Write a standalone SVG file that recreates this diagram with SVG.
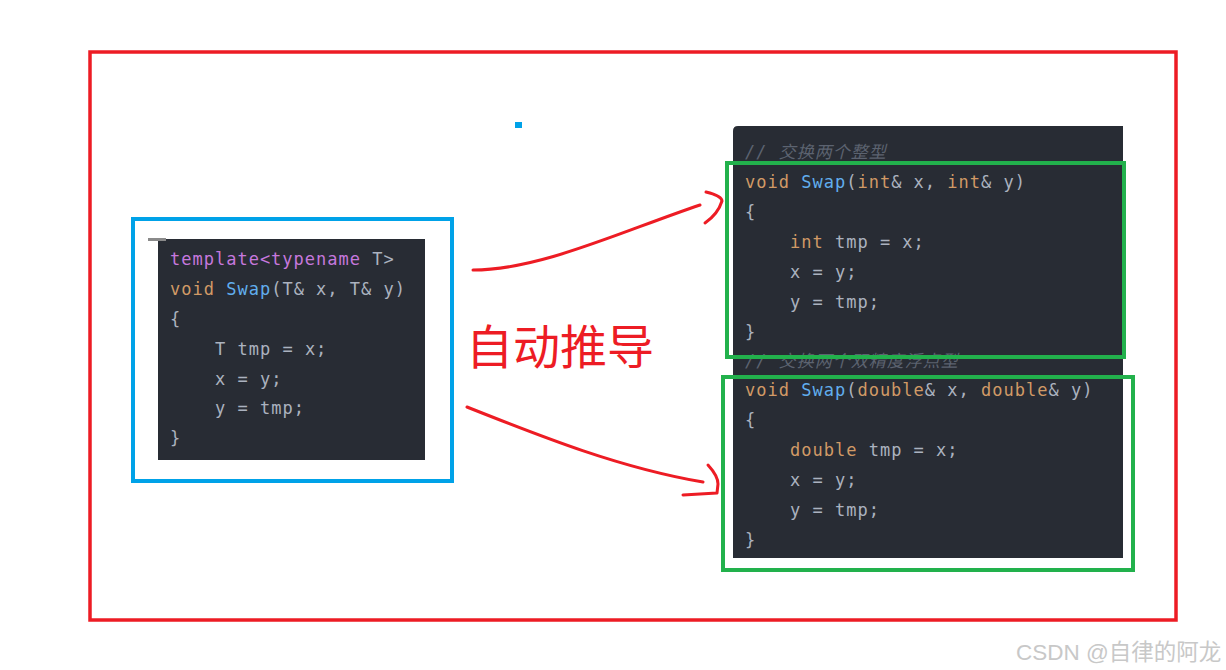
<svg xmlns="http://www.w3.org/2000/svg" width="1226" height="670" viewBox="0 0 1226 670">
<style>
.code{font-family:"DejaVu Sans Mono","Liberation Mono",monospace;font-size:17px;letter-spacing:1px;fill:#abb2bf}
.cm{fill:#5c6370;font-style:italic;font-family:"DejaVu Sans Mono","Noto Sans CJK SC",monospace}
.kw{fill:#c678dd}
.ty{fill:#d19a66}
.fn{fill:#61aeee}
.frame{fill:none}
.arrow{fill:none;stroke:#ed1c24;stroke-width:3;stroke-linecap:round;stroke-linejoin:round}
</style>
<rect width="1226" height="670" fill="#ffffff"/>
<g id="outer-frame"><rect x="90" y="52" width="1086" height="568" class="frame" stroke="#ed1c24" stroke-width="3.5"/></g>
<rect x="515" y="122" width="7" height="6" fill="#00a2e8"/>
<g id="template-node">
<rect x="158" y="239" width="267" height="221" fill="#282c34"/>
<rect x="148" y="238" width="18" height="3" fill="#8a8a8a"/>
<text class="code" x="170" y="265"><tspan class="kw">template&lt;typename</tspan> T&gt;</text>
<text class="code" x="170" y="295"><tspan class="ty">void</tspan> <tspan class="fn">Swap</tspan>(T&amp; x, T&amp; y)</text>
<text class="code" x="170" y="325">{</text>
<text class="code" x="215" y="355">T tmp = x;</text>
<text class="code" x="215" y="385">x = y;</text>
<text class="code" x="215" y="414">y = tmp;</text>
<text class="code" x="170" y="444">}</text>
<rect x="133" y="219" width="319" height="262" class="frame" stroke="#00a2e8" stroke-width="4"/>
</g>
<g id="instances">
<path d="M733 131 Q733 126 738 126 L1123 126 L1123 558 L733 558 Z" fill="#282c34"/>
<text class="code cm" x="745" y="158">// 交换两个整型</text>
<text class="code cm" x="745" y="367">// 交换两个双精度浮点型</text>
</g>
<g id="int-node">
<text class="code" x="745" y="188"><tspan class="ty">void</tspan> <tspan class="fn">Swap</tspan>(<tspan class="ty">int</tspan>&amp; x, <tspan class="ty">int</tspan>&amp; y)</text>
<text class="code" x="745" y="218">{</text>
<text class="code" x="790" y="248"><tspan class="ty">int</tspan> tmp = x;</text>
<text class="code" x="790" y="278">x = y;</text>
<text class="code" x="790" y="308">y = tmp;</text>
<text class="code" x="745" y="338">}</text>
<rect x="727" y="163" width="397" height="194" class="frame" stroke="#22b14c" stroke-width="4"/>
</g>
<g id="double-node">
<text class="code" x="745" y="396"><tspan class="ty">void</tspan> <tspan class="fn">Swap</tspan>(<tspan class="ty">double</tspan>&amp; x, <tspan class="ty">double</tspan>&amp; y)</text>
<text class="code" x="745" y="426">{</text>
<text class="code" x="790" y="456"><tspan class="ty">double</tspan> tmp = x;</text>
<text class="code" x="790" y="486">x = y;</text>
<text class="code" x="790" y="516">y = tmp;</text>
<text class="code" x="745" y="546">}</text>
<rect x="723" y="377" width="410" height="193" class="frame" stroke="#22b14c" stroke-width="4"/>
</g>
<g id="connectors">
<path class="arrow" d="M473 270 C540 270 620 232 700 205"/>
<path class="arrow" d="M706 192 Q722 196 722 201 Q718 214 705 223"/>
<path class="arrow" d="M467 407 C540 436 620 468 703 482"/>
<path class="arrow" d="M708 465 Q718 476 718 484 L717 493 L683 495"/>
</g>
<text x="466" y="364" font-family="Noto Sans CJK SC, sans-serif" font-size="47" fill="#ed1c24">自动推导</text>
<text x="1016" y="660" font-family="Liberation Sans, Noto Sans CJK SC, sans-serif" font-size="22.5" fill="#c8c8c8">CSDN @自律的阿龙</text>
</svg>
